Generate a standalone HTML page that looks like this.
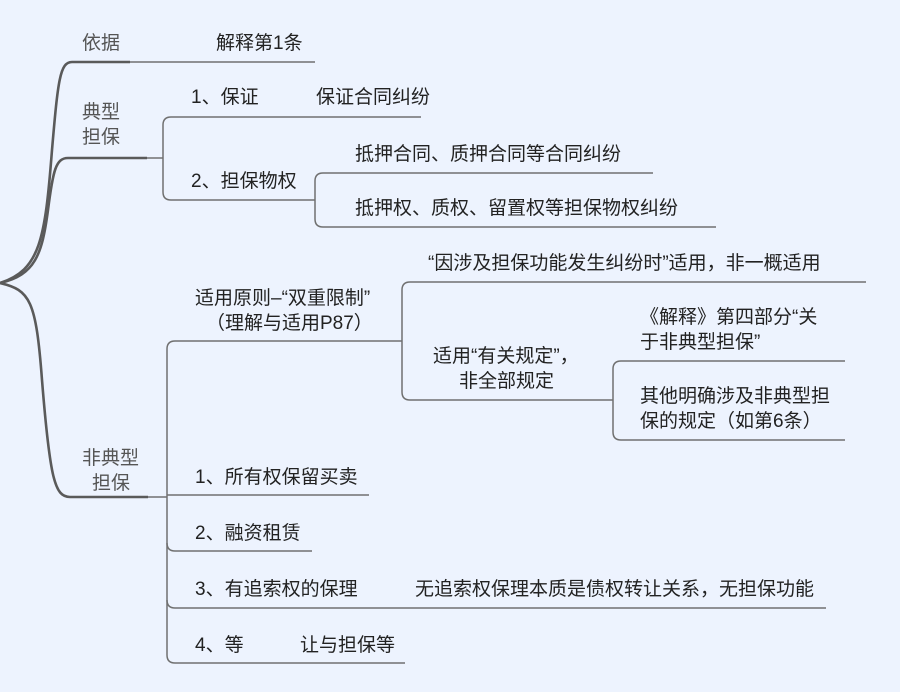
<!DOCTYPE html>
<html><head><meta charset="utf-8"><style>
html,body{margin:0;padding:0;background:#fff}
svg{display:block}
text{font-family:"Liberation Sans","Noto Sans CJK SC",sans-serif;font-size:19px;fill:#222}
.g{fill:#555}
</style></head><body>
<svg width="900" height="695" viewBox="0 0 900 695" xmlns="http://www.w3.org/2000/svg">
<rect x="0" y="0" width="900" height="692" fill="#edf3fe"/>
<g fill="none" stroke="#5a5a5a" stroke-width="2.6">
<path d="M0 283 C40 270 45 240 52 150 C58 80 60 62 72 62 L130 62"/>
<path d="M0 283 C35 275 42 255 48 210 C53 170 56 158 68 158 L147 158"/>
<path d="M0 283 C30 290 36 300 42 380 C50 480 55 497 70 497 L148 497"/>
</g>
<g fill="none" stroke="#707070" stroke-width="1.5">
<path d="M130 62 L315 62"/>
<path d="M147 158 L163 158"/>
<path d="M421 117 L171 117 Q163 117 163 125 L163 192 Q163 200 171 200 L315 200"/>
<path d="M653 173 L323 173 Q315 173 315 181 L315 219 Q315 227 323 227 L716 227"/>
<path d="M148 497 L167 497"/>
<path d="M402 341 L175 341 Q167 341 167 349 L167 655 Q167 663 175 663 L405 663"/>
<path d="M167 495 L369 495"/>
<path d="M167 543 Q167 551 175 551 L312 551"/>
<path d="M167 600 Q167 608 175 608 L826 608"/>
<path d="M866 282 L410 282 Q402 282 402 290 L402 392 Q402 400 410 400 L613 400"/>
<path d="M845 361 L621 361 Q613 361 613 369 L613 432 Q613 440 621 440 L845 440"/>
</g>
<text x="82" y="49" class="g">依据</text>
<text x="216" y="49">解释第1条</text>
<text x="82" y="118" class="g">典型</text>
<text x="82" y="143" class="g">担保</text>
<text x="191" y="103">1、保证</text>
<text x="316" y="103">保证合同纠纷</text>
<text x="191" y="187">2、担保物权</text>
<text x="355" y="160">抵押合同、质押合同等合同纠纷</text>
<text x="355" y="214">抵押权、质权、留置权等担保物权纠纷</text>
<text x="195" y="304">适用原则–“双重限制”</text>
<text x="206" y="329">（理解与适用P87）</text>
<text x="428" y="269">“因涉及担保功能发生纠纷时”适用，非一概适用</text>
<text x="433" y="362">适用“有关规定”，</text>
<text x="459" y="387">非全部规定</text>
<text x="640" y="323">《解释》第四部分“关</text>
<text x="640" y="348">于非典型担保”</text>
<text x="640" y="402">其他明确涉及非典型担</text>
<text x="640" y="427">保的规定（如第6条）</text>
<text x="82" y="464" class="g">非典型</text>
<text x="92" y="489" class="g">担保</text>
<text x="195" y="483">1、所有权保留买卖</text>
<text x="195" y="539">2、融资租赁</text>
<text x="195" y="595">3、有追索权的保理</text>
<text x="415" y="595">无追索权保理本质是债权转让关系，无担保功能</text>
<text x="195" y="651">4、等</text>
<text x="300" y="651">让与担保等</text>
</svg>
</body></html>
